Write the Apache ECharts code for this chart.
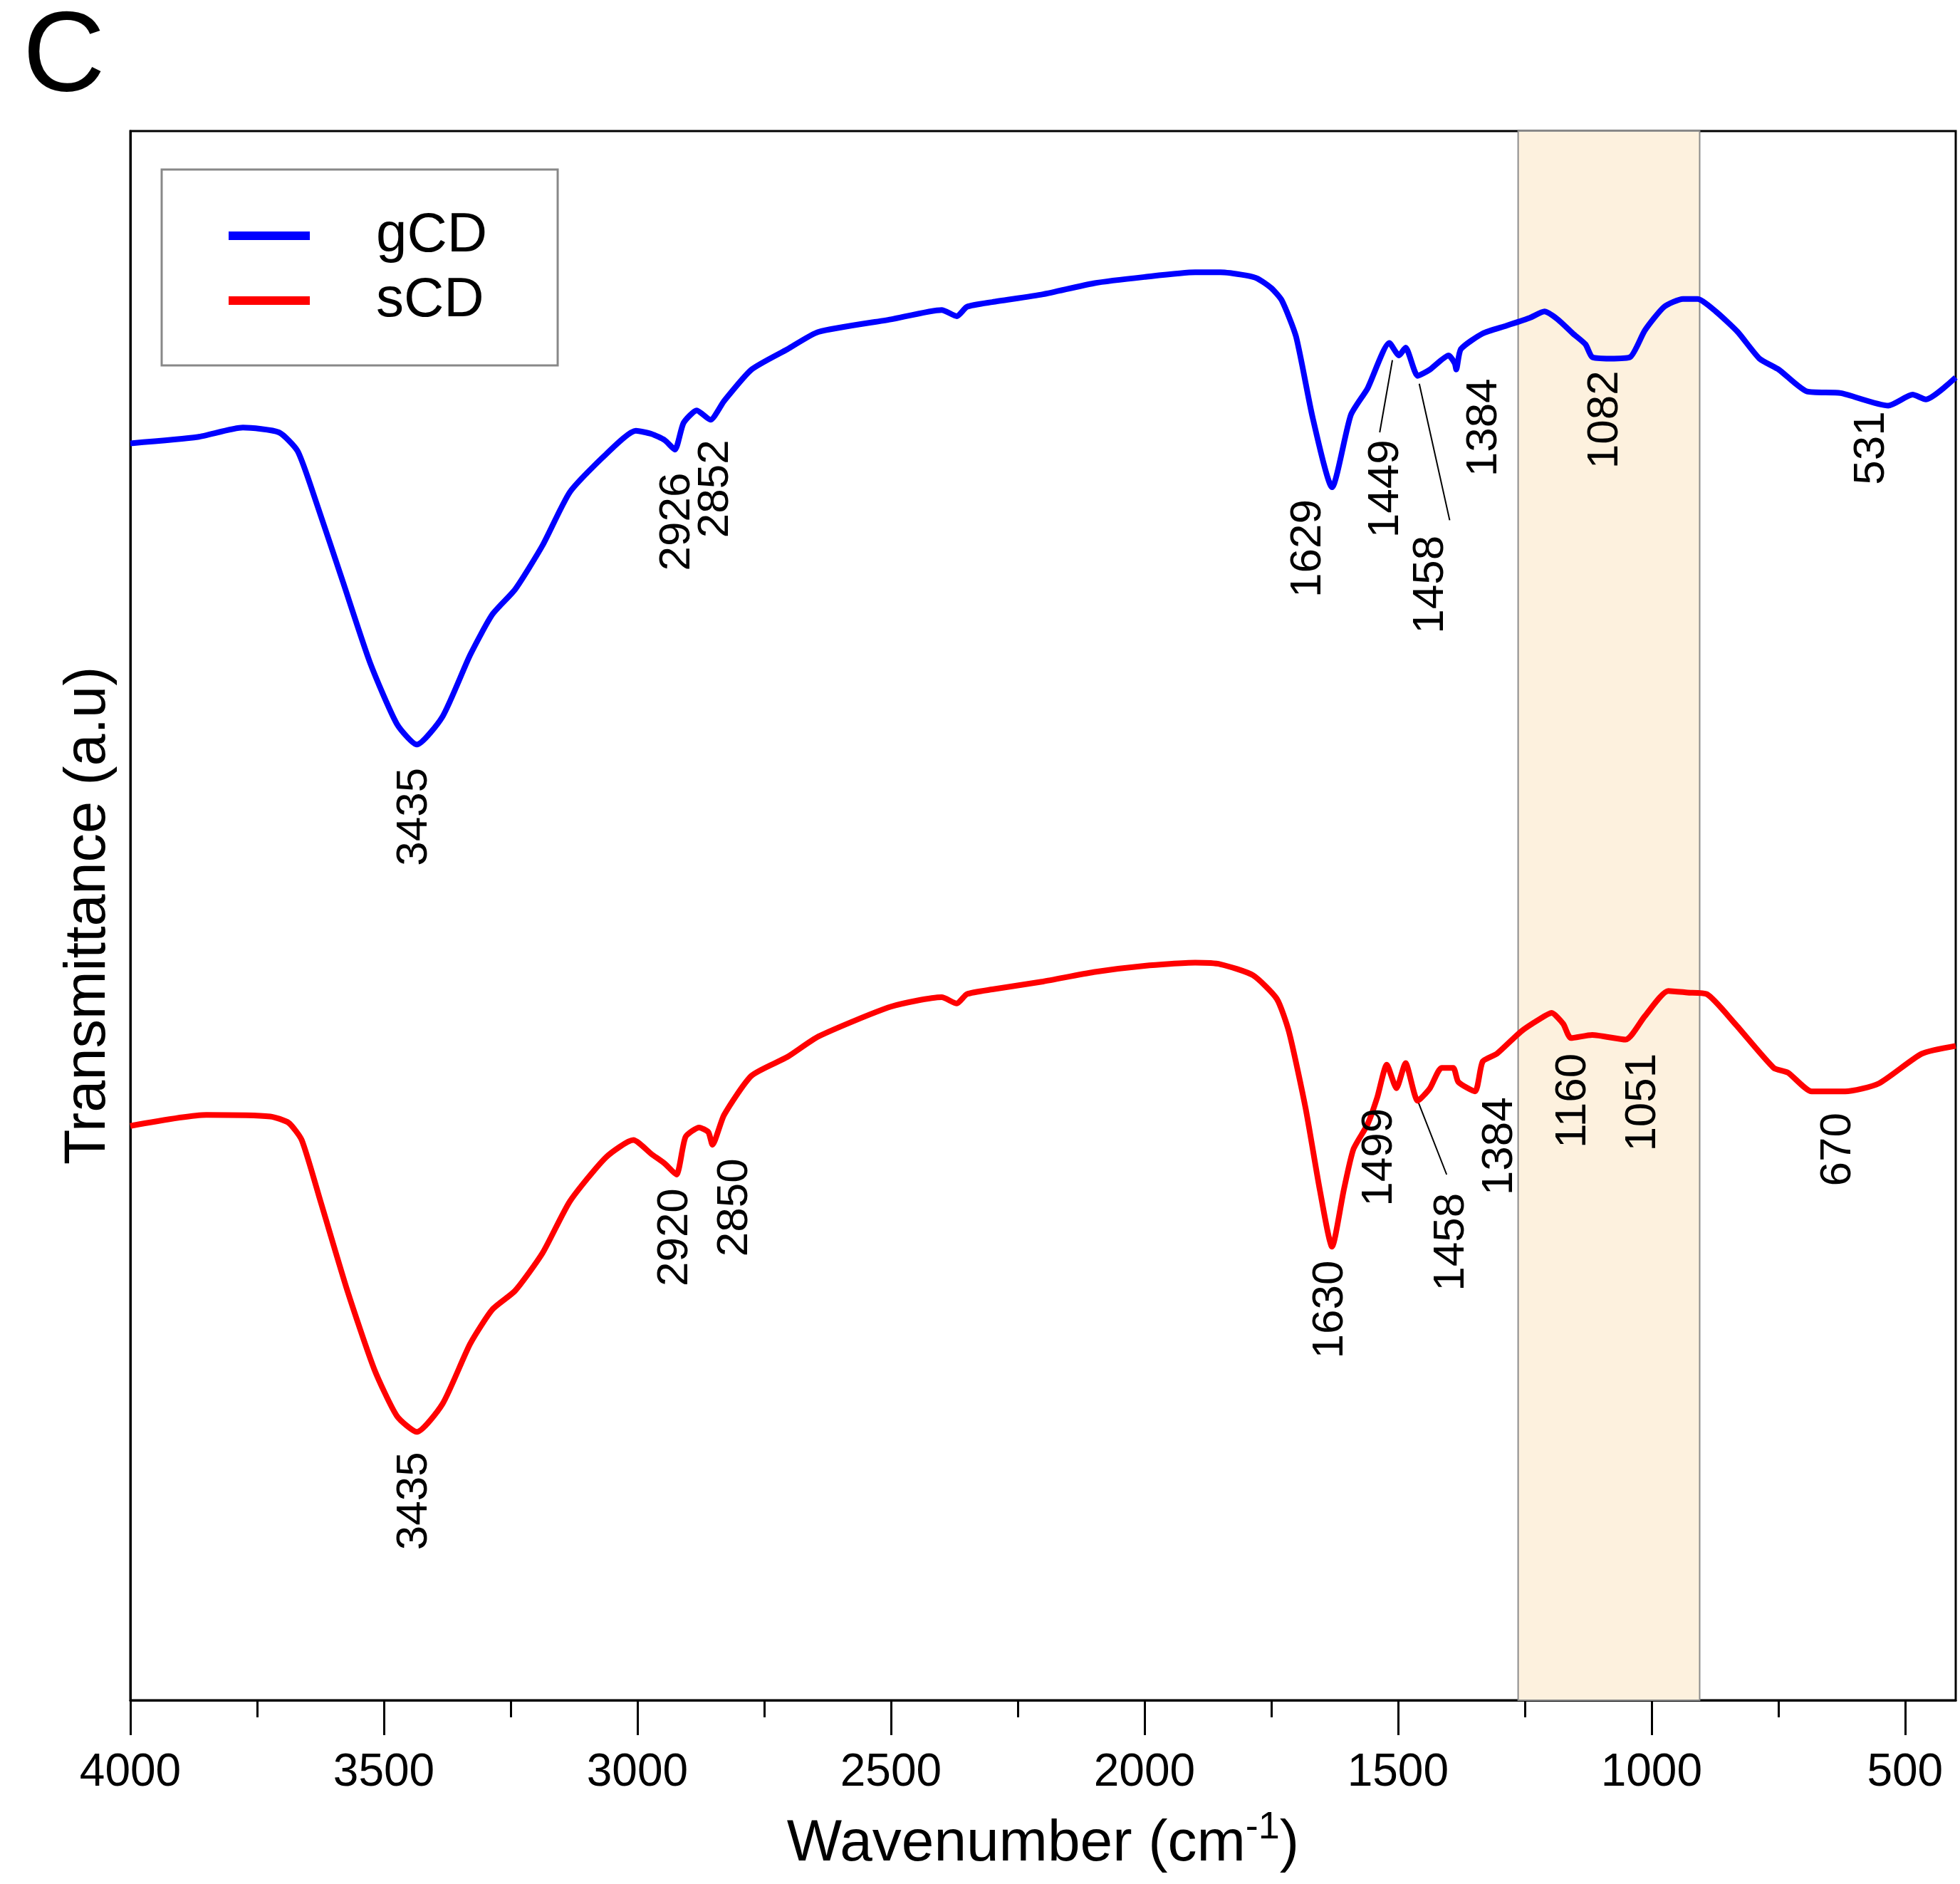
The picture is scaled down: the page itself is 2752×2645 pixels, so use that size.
<!DOCTYPE html>
<html>
<head>
<meta charset="utf-8">
<title>FTIR gCD / sCD</title>
<script src="https://cdn.jsdelivr.net/npm/echarts@6/dist/echarts.min.js"></script>
<style>
  html, body { margin: 0; padding: 0; background: #fff; }
  #chart { width: 2752px; height: 2645px; }
</style>
</head>
<body>
<div id="chart"></div>
<script>
// wavenumber (cm-1) and transmittance (a.u., offset traces)
const gcdWn = [4000, 3867, 3778, 3707, 3670, 3635, 3581, 3527, 3474, 3435, 3384, 3330, 3286, 3241, 3187, 3133, 3062, 3003, 2972, 2946, 2926, 2909, 2883, 2856, 2829, 2775, 2704, 2643, 2500, 2400, 2370, 2350, 2300, 2200, 2100, 2000, 1900, 1850, 1800, 1777, 1750, 1729, 1701, 1668, 1630, 1593, 1560, 1517, 1498, 1485, 1461, 1437, 1400, 1388, 1385, 1376, 1333, 1286, 1240, 1211, 1185, 1155, 1130, 1117, 1082, 1042, 1013, 975, 938, 909, 873, 830, 787, 749, 693, 627, 533, 485, 459, 400];
const gcdT = [80.1, 80.5, 81.1, 80.8, 79.6, 76.5, 71.3, 66.1, 62.2, 60.9, 62.7, 66.6, 69.2, 70.8, 73.6, 77.0, 79.4, 80.9, 80.7, 80.3, 79.7, 81.4, 82.2, 81.6, 82.8, 84.8, 86.1, 87.2, 88.0, 88.6, 88.2, 88.8, 89.1, 89.6, 90.3, 90.7, 91.0, 91.0, 90.8, 90.6, 90.0, 89.2, 86.9, 81.7, 77.3, 81.9, 83.6, 86.5, 85.7, 86.2, 84.4, 84.8, 85.7, 85.2, 84.8, 86.1, 87.1, 87.6, 88.1, 88.5, 88.0, 87.1, 86.4, 85.6, 85.5, 85.6, 87.3, 88.8, 89.3, 89.3, 88.5, 87.2, 85.5, 84.8, 83.4, 83.3, 82.5, 83.2, 82.9, 84.3];

const scdWn = [4000, 3850, 3724, 3688, 3662, 3625, 3572, 3519, 3474, 3435, 3384, 3330, 3286, 3241, 3187, 3133, 3062, 3008, 2972, 2946, 2923, 2905, 2878, 2860, 2852, 2829, 2775, 2704, 2643, 2500, 2400, 2370, 2350, 2300, 2200, 2100, 2000, 1900, 1850, 1786, 1739, 1715, 1682, 1654, 1630, 1607, 1588, 1560, 1541, 1522, 1503, 1485, 1461, 1437, 1414, 1391, 1381, 1348, 1333, 1305, 1258, 1221, 1197, 1174, 1159, 1117, 1051, 1013, 967, 929, 891, 835, 759, 731, 684, 618, 552, 467, 400];
const scdT = [36.6, 37.3, 37.2, 36.8, 35.7, 31.8, 26.1, 21.1, 18.1, 17.1, 18.9, 22.7, 24.9, 26.1, 28.5, 31.8, 34.6, 35.7, 34.8, 34.2, 33.5, 35.9, 36.5, 36.2, 35.4, 37.3, 39.8, 41.0, 42.3, 44.2, 44.8, 44.4, 45.0, 45.3, 45.8, 46.4, 46.8, 47.0, 46.9, 46.2, 44.7, 42.6, 37.7, 32.5, 28.9, 32.5, 35.1, 36.7, 38.4, 40.5, 39.0, 40.6, 38.2, 39.0, 40.3, 40.3, 39.4, 38.8, 40.7, 41.2, 42.6, 43.4, 43.8, 43.1, 42.2, 42.4, 42.1, 43.6, 45.2, 45.1, 45.0, 43.1, 40.3, 40.0, 38.8, 38.8, 39.3, 41.2, 41.7];

// peak annotations (text centre in data coords)
const gcdPeaks = ['3435', '2926', '2852', '1629', '1449', '1458', '1384', '1082', '531'];
const gcdPeakWn = [3440, 2922, 2845, 1677, 1524, 1436, 1330, 1091, 566];
const gcdPeakT = [56.3, 75.1, 77.2, 73.4, 77.2, 71.1, 81.1, 81.6, 79.8];

const scdPeaks = ['3435', '2920', '2850', '1630', '1499', '1458', '1384', '1160', '1051', '670'];
const scdPeakWn = [3440, 2925, 2808, 1633, 1537, 1394, 1299, 1155, 1017, 632];
const scdPeakT = [12.7, 29.5, 31.4, 24.9, 34.6, 29.2, 35.3, 38.2, 38.1, 35.1];

// leader lines from label to peak
const leaders = [
  [[1511, 85.4], [1536, 80.8]],
  [[1458, 83.9], [1398, 75.2]],
  [[1461, 38.2], [1404, 33.5]]
];

const highlightBand = [1263, 905];
const majorTicks = [500, 1000, 1500, 2000, 2500, 3000, 3500, 4000];
const minorTicks = [750, 1250, 1750, 2250, 2750, 3250, 3750];

const FONT = '"Liberation Sans", Arial, sans-serif';

const zip = (xs, ys) => xs.map((x, i) => [x, ys[i]]);

const peakSeries = (names, xs, ys) => ({
  type: 'scatter',
  symbolSize: 1,
  itemStyle: { color: 'rgba(0,0,0,0)' },
  z: 5,
  silent: true,
  label: {
    show: true,
    position: 'inside',
    rotate: 90,
    formatter: p => p.name,
    color: '#000',
    opacity: 1,
    textBorderWidth: 0,
    fontSize: 62,
    fontFamily: FONT
  },
  data: names.map((n, i) => ({ name: n, value: [xs[i], ys[i]] }))
});

const chart = echarts.init(document.getElementById('chart'));

const xBase = {
  type: 'value',
  inverse: true,
  min: 400,
  max: 4000,
  splitLine: { show: false }
};

chart.setOption({
  animation: false,
  backgroundColor: '#fff',
  title: {
    text: 'C',
    left: 27,
    top: -2,
    textStyle: { fontSize: 160, fontWeight: 'normal', color: '#000', fontFamily: FONT }
  },
  legend: {
    data: ['gCD', 'sCD'],
    orient: 'vertical',
    left: 227,
    top: 238,
    padding: [54, 99, 52, 94],
    itemGap: 13,
    itemWidth: 114,
    itemHeight: 12,
    icon: 'rect',
    borderColor: '#888',
    borderWidth: 3,
    textStyle: { fontSize: 78, lineHeight: 78, color: '#000', fontFamily: FONT, padding: [0, 0, 0, 88] }
  },
  grid: {
    left: 183,
    top: 184,
    width: 2563,
    height: 2203,
    show: true,
    borderColor: '#000',
    borderWidth: 3,
    backgroundColor: 'transparent'
  },
  xAxis: [
    Object.assign({}, xBase, {
      name: '{n|Wavenumber (cm}{s|-1}{n|)}',
      nameLocation: 'middle',
      nameGap: 152,
      nameTextStyle: {
        rich: {
          n: { fontSize: 82, lineHeight: 82, padding: [18, 0, 0, 0], color: '#000', fontFamily: FONT },
          s: { fontSize: 54, lineHeight: 54, color: '#000', fontFamily: FONT, verticalAlign: 'top' }
        }
      },
      axisLine: { show: true, lineStyle: { color: '#000', width: 3 } },
      axisTick: { show: true, customValues: majorTicks, length: 49, lineStyle: { color: '#000', width: 3 } },
      axisLabel: {
        customValues: majorTicks,
        formatter: v => String(v),
        margin: 70,
        fontSize: 64,
        color: '#000',
        fontFamily: FONT
      }
    }),
    Object.assign({}, xBase, {
      position: 'bottom',
      axisLine: { show: false },
      axisTick: { show: true, customValues: minorTicks, length: 24, lineStyle: { color: '#000', width: 3 } },
      axisLabel: { show: false, customValues: minorTicks }
    })
  ],
  yAxis: {
    type: 'value',
    min: 0,
    max: 100,
    name: 'Transmittance (a.u)',
    nameLocation: 'middle',
    nameGap: 18,
    nameTextStyle: { fontSize: 81, lineHeight: 81, color: '#000', fontFamily: FONT },
    axisLine: { show: true, lineStyle: { color: '#000', width: 3 } },
    axisTick: { show: false },
    axisLabel: { show: false },
    splitLine: { show: false }
  },
  series: [
    {
      type: 'line',
      data: [],
      z: 1,
      silent: true,
      markArea: {
        silent: true,
        itemStyle: { color: '#FDF1DE', borderColor: '#8C8C8C', borderWidth: 2 },
        data: [[{ xAxis: highlightBand[0] }, { xAxis: highlightBand[1] }]]
      }
    },
    ...leaders.map(seg => ({
      type: 'line',
      data: seg,
      z: 2,
      silent: true,
      showSymbol: false,
      symbol: 'none',
      lineStyle: { color: '#000', width: 2 }
    })),
    {
      name: 'gCD',
      type: 'line',
      data: zip(gcdWn, gcdT),
      z: 3,
      showSymbol: false,
      symbol: 'none',
      smooth: 0.2,
      itemStyle: { color: '#0000FF' },
      lineStyle: { color: '#0000FF', width: 8 }
    },
    {
      name: 'sCD',
      type: 'line',
      data: zip(scdWn, scdT),
      z: 3,
      showSymbol: false,
      symbol: 'none',
      smooth: 0.2,
      itemStyle: { color: '#FF0000' },
      lineStyle: { color: '#FF0000', width: 8 }
    },
    peakSeries(gcdPeaks, gcdPeakWn, gcdPeakT),
    peakSeries(scdPeaks, scdPeakWn, scdPeakT)
  ]
});

window.addEventListener('resize', () => chart.resize());
</script>
</body>
</html>
